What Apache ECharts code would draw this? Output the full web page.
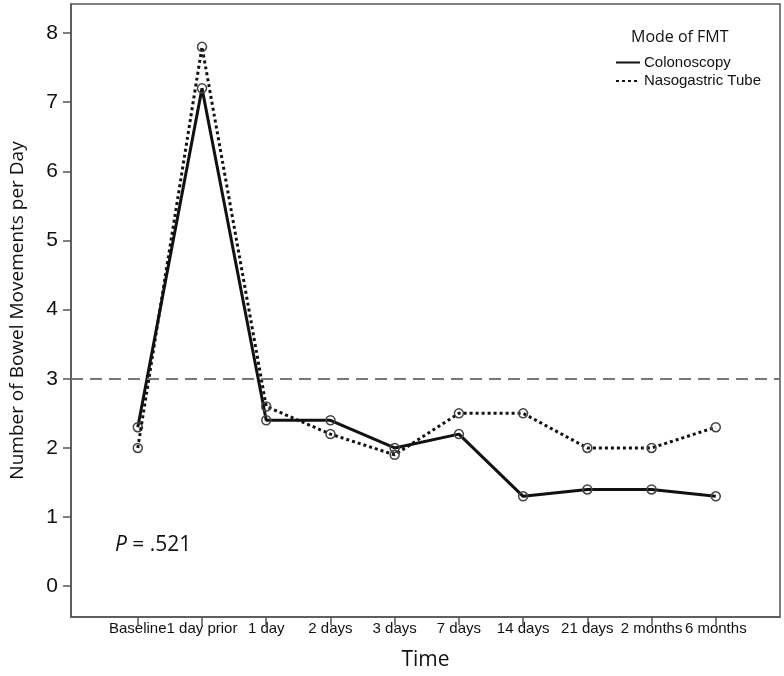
<!DOCTYPE html>
<html>
<head>
<meta charset="utf-8">
<script src="https://cdn.jsdelivr.net/npm/echarts@6/dist/echarts.min.js"></script>
<style>
html,body{margin:0;padding:0;background:#fff;}
#chart{width:784px;height:676px;}
</style>
</head>
<body>
<div id="chart"></div>
<script>
const categories = ['Baseline', '1 day prior', '1 day', '2 days', '3 days', '7 days', '14 days', '21 days', '2 months', '6 months'];
const colonoscopy = [2.3, 7.2, 2.4, 2.4, 2.0, 2.2, 1.3, 1.4, 1.4, 1.3];
const nasogastric = [2.0, 7.8, 2.6, 2.2, 1.9, 2.5, 2.5, 2.0, 2.0, 2.3];
const yTicks = [0, 1, 2, 3, 4, 5, 6, 7, 8];
const threshold = 3;
const pText = '= .521';

const xTicks = categories.map((c, i) => i);
const toPairs = arr => arr.map((v, i) => [i, v]);

const chart = echarts.init(document.getElementById('chart'), null, {renderer: 'canvas'});
const axisColor = '#555';
chart.setOption({
  animation: false,
  backgroundColor: '#fff',
  grid: {left: 69, right: 4, top: 4, bottom: 55, show: true, borderColor: axisColor, borderWidth: 1.5, containLabel: false},
  title: [
    {text: 'Mode of FMT', left: 631, top: 29, padding: 0, textStyle: {fontFamily: 'Open Sans', fontSize: 16, fontWeight: 'normal', color: '#111'}},
    {text: '{i|P} ' + pText, left: 115, top: 535, padding: 0, textStyle: {fontFamily: 'Open Sans', fontSize: 21, fontWeight: 'normal', color: '#111',
      rich: {i: {fontFamily: 'Open Sans', fontStyle: 'italic', fontSize: 21, color: '#111'}}}}
  ],
  legend: {
    orient: 'vertical', left: 615, top: 55, padding: 0, itemWidth: 24, itemHeight: 14, itemGap: 3.5,
    textStyle: {fontFamily: 'Liberation Sans', fontSize: 15, color: '#111', padding: [0, 0, 0, -1]},
    itemStyle: {color: 'transparent', borderColor: 'transparent', borderWidth: 0},
    data: ['Colonoscopy', 'Nasogastric Tube']
  },
  xAxis: {
    type: 'value', min: -1.04, max: 10,
    name: 'Time', nameLocation: 'middle', nameGap: 33,
    nameTextStyle: {fontFamily: 'Open Sans', fontSize: 21, color: '#111'},
    axisLine: {show: true, onZero: false, lineStyle: {color: axisColor, width: 1.5}},
    axisTick: {show: true, length: 8, customValues: xTicks, lineStyle: {color: axisColor, width: 1.5}},
    axisLabel: {customValues: xTicks, margin: 4, fontFamily: 'Liberation Sans', fontSize: 15, color: '#111',
      formatter: v => categories[Math.round(v)] || ''},
    splitLine: {show: false}
  },
  yAxis: {
    type: 'value', min: -0.445, max: 8.42,
    name: 'Number of Bowel Movements per Day', nameLocation: 'middle', nameGap: 44,
    nameTextStyle: {fontFamily: 'Open Sans', fontSize: 19, color: '#111'},
    axisLine: {show: true, onZero: false, lineStyle: {color: axisColor, width: 1.5}},
    axisTick: {show: true, length: 8, customValues: yTicks, lineStyle: {color: axisColor, width: 1.5}},
    axisLabel: {customValues: yTicks, margin: 13, fontFamily: 'Liberation Sans', fontSize: 21, color: '#111'},
    splitLine: {show: false}
  },
  series: [
    {
      name: 'Colonoscopy', type: 'line', data: toPairs(colonoscopy),
      symbol: 'circle', symbolSize: 9,
      lineStyle: {color: '#111', width: 3},
      itemStyle: {color: 'transparent', borderColor: '#444', borderWidth: 1.5},
      z: 3,
      markLine: {
        silent: true, symbol: 'none', label: {show: false},
        lineStyle: {color: '#777', width: 2, type: [12, 7]},
        data: [{yAxis: threshold}]
      }
    },
    {
      name: 'Nasogastric Tube', type: 'line', data: toPairs(nasogastric),
      symbol: 'circle', symbolSize: 9,
      lineStyle: {color: '#111', width: 3, type: [3, 3]},
      itemStyle: {color: 'transparent', borderColor: '#444', borderWidth: 1.5},
      z: 4
    }
  ]
});
</script>
</body>
</html>
